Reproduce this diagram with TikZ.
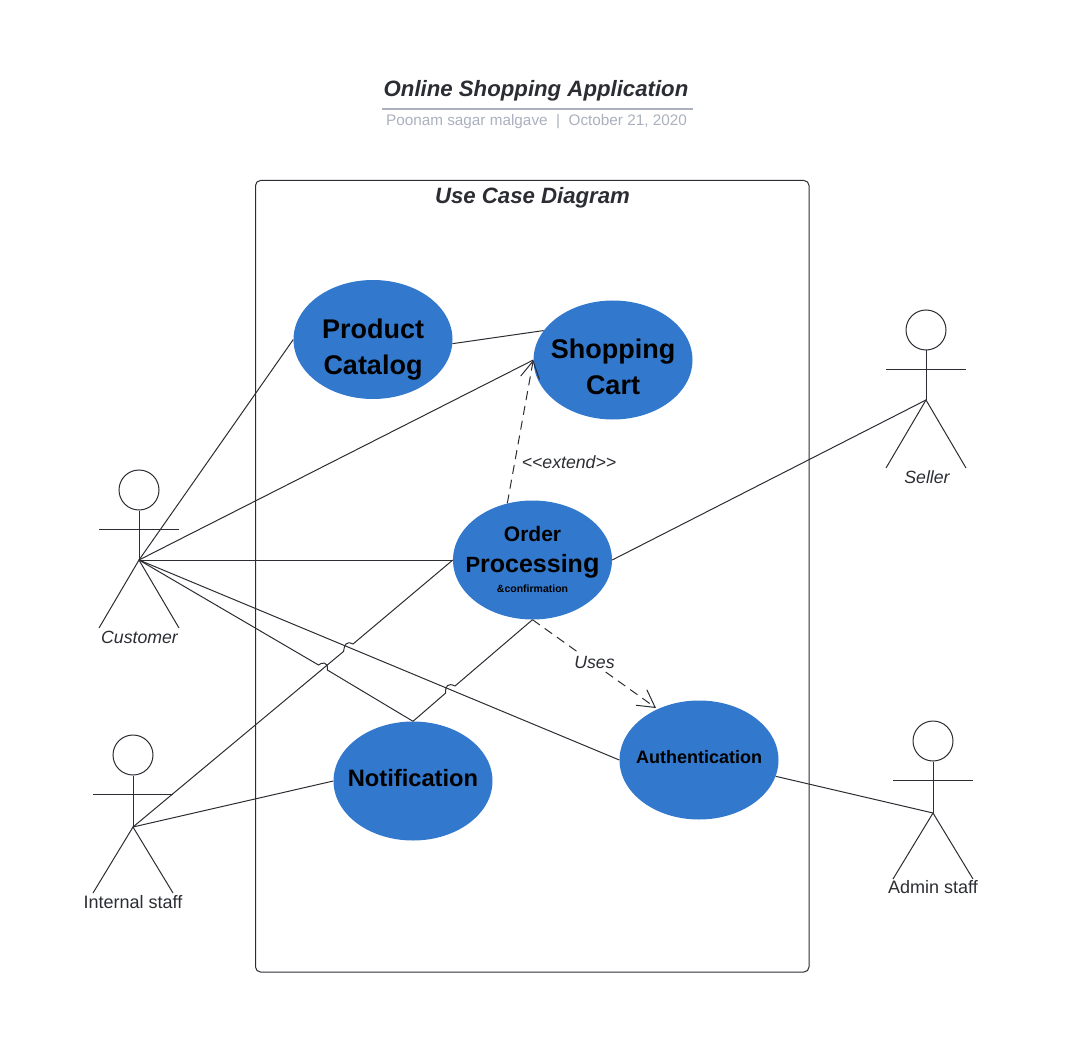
\documentclass[tikz,border=0pt]{standalone}
\usepackage{fontspec}
\setmainfont{Liberation Sans}
\usetikzlibrary{arrows.meta,shapes.geometric}
\definecolor{ink}{HTML}{2B2D33}
\definecolor{usecaseblue}{HTML}{3278CC}
\definecolor{greyrule}{HTML}{AAB0BE}
\tikzset{
  usecase/.style={ellipse,fill=usecaseblue,minimum width=159pt,minimum height=119pt,inner sep=0pt,font=\bfseries,text=black},
  line/.style={draw=ink,line width=1pt},
  openhead/.style={-{Straight Barb[length=17pt,width=19pt,line width=1pt]}},
  head/.style={circle,draw=ink,line width=1pt,minimum size=40pt,inner sep=0pt},
  actorlabel/.style={text=ink,font=\fontsize{18}{20}\selectfont,inner sep=0pt},
  actorit/.style={actorlabel,font=\fontsize{17.7}{20}\selectfont\itshape},
  heading/.style={text=ink,font=\fontsize{22.2}{26}\selectfont\bfseries\itshape,inner sep=0pt},
}
% text that does not widen the ellipse: #1 = downward shift, #2 = lines
\newcommand{\casetext}[2]{\makebox[0pt]{\raisebox{-#1}[0pt][0pt]{\begin{tabular}{@{}c@{}}#2\end{tabular}}}}
\newcommand{\stickman}[6]{% name, x, head y, arm y, hip y, feet y
  \node[head] (#1) at (#2,#3) {};
  \coordinate (#1-hip) at (#2,#5);
  \coordinate (#1-l) at ({#2-40},#6);
  \coordinate (#1-r) at ({#2+40},#6);
  \coordinate (#1-al) at ({#2-40},#4);
  \coordinate (#1-ar) at ({#2+40},#4);
  \draw[line] (#1.south) -- (#1-hip);
  \draw[line] (#1-al) -- (#1-ar);
  \draw[line] (#1-l) -- (#1-hip) -- (#1-r);
}
\begin{document}
\begin{tikzpicture}[x=1pt,y=-1pt]
\useasboundingbox (0,0) rectangle (1065,1064);
% header
\node[heading] (title) at (536,90.5) {Online Shopping Application};
\coordinate (ruleL) at (382,109);
\coordinate (ruleR) at (693,109);
\draw[greyrule,line width=2pt] (ruleL) -- (ruleR);
\node[text=greyrule,inner sep=0pt,font=\fontsize{15.3}{18}\selectfont] (sub) at (536.5,122) {Poonam sagar malgave\ \ |\ \ October 21, 2020};
% system box
\node[draw=ink,line width=1pt,rounded corners=5pt,minimum width=553.5pt,minimum height=791.5pt,inner sep=0pt] (system) at (532.25,576.25) {};
\node[heading] (systemtitle) at (532.5,198) {Use Case Diagram};
% use cases
\node[usecase,font=\fontsize{27}{36}\selectfont\bfseries] (pc) at (373,339.5) {\casetext{16pt}{Product\\Catalog}};
\node[usecase,font=\fontsize{27}{36}\selectfont\bfseries] (sc) at (613,360) {\casetext{16pt}{Shopping\\Cart}};
\node[usecase,font=\fontsize{21}{31}\selectfont\bfseries] (op) at (532.5,560) {\casetext{6pt}{%
  Order\\
  {\fontsize{25}{29}\selectfont{\fontsize{22}{29}\selectfont P}rocessin{\fontsize{27}{29}\selectfont g}}\\[-11pt]
  \fontsize{10.5}{14}\selectfont \&confirmation}};
\node[usecase,font=\fontsize{23.7}{28}\selectfont\bfseries] (nt) at (413,781) {\casetext{6pt}{Notification}};
\node[usecase,font=\fontsize{18}{22}\selectfont\bfseries] (au) at (699,760) {\casetext{3.5pt}{Authentication}};
% actors
\stickman{cu}{139}{490}{529}{560}{628}
\stickman{se}{926}{330}{369}{400}{468}
\stickman{is}{133}{755}{794}{827}{893}
\stickman{ad}{933}{741}{780}{813}{879}
\node[actorit] (culabel) at (139.5,637) {Customer};
\node[actorit] (selabel) at (927,477) {Seller};
\node[actorlabel] (islabel) at (133,902) {Internal staff};
\node[actorlabel] (adlabel) at (933,887.5) {Admin staff};
% plain connectors
\draw[line] (cu-hip) -- (pc.west);
\draw[line] (pc.-3) -- (sc.157);
\draw[line] (cu-hip) -- (sc.west);
\draw[line] (cu-hip) -- (op.west);
\draw[line] (cu-hip) -- (au.west);
\draw[line] (op.east) -- (se-hip);
\draw[line] (is-hip) -- (nt.west);
\draw[line] (au.-12) -- (ad-hip);
% connectors with line jumps
\coordinate (hopAa) at (318.5,665);
\coordinate (hopAb) at (327.3,670);
\draw[line] (cu-hip) -- (hopAa) .. controls (322,662) and (328.5,661.5) .. (hopAb) -- (nt.north);
\coordinate (hopBa) at (343.5,651.5);
\coordinate (hopBb) at (353,644);
\draw[line] (is-hip) -- (hopBa) .. controls (344.5,645) and (346,640.5) .. (hopBb) -- (op.west);
\coordinate (hopCa) at (445.7,693);
\coordinate (hopCb) at (455,686);
\draw[line] (nt.north) -- (hopCa) .. controls (445,686) and (448,682.5) .. (hopCb) -- (op.south);
% dashed dependencies
\draw[line,dashed,dash pattern=on 9pt off 6pt,openhead] (op.114) -- (sc.west);
\node[font=\fontsize{17.7}{20}\selectfont\itshape,text=ink,inner sep=0pt] (extend) at (569,462) {<{}<extend>{}>};
\coordinate (uses-end) at (656,708);
\draw[line,dashed,dash pattern=on 9pt off 6pt,openhead] (op.south) -- (uses-end);
\node[fill=white,font=\fontsize{17.7}{20}\selectfont\itshape,text=ink,inner sep=2pt] (uses) at (594.5,662) {Uses};
\end{tikzpicture}
\end{document}
